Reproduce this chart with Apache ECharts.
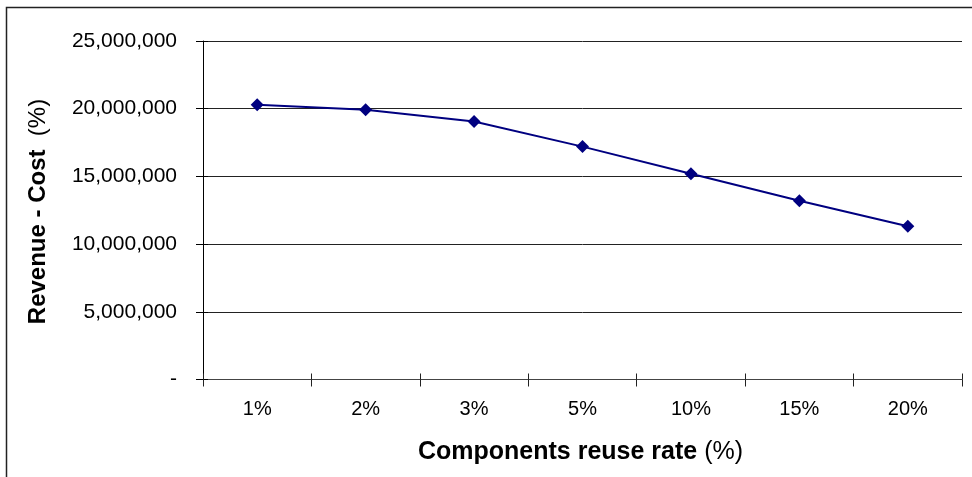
<!DOCTYPE html>
<html>
<head>
<meta charset="utf-8">
<script src="https://cdn.jsdelivr.net/npm/echarts@6/dist/echarts.min.js"></script>
<style>
html,body{margin:0;padding:0;background:#fff;}
#c{width:972px;height:477px;}
</style>
</head>
<body>
<div id="c"></div>
<script>
var categories = ['1%', '2%', '3%', '5%', '10%', '15%', '20%'];
var profitValues = [20290000, 19920000, 19050000, 17200000, 15190000, 13200000, 11320000];
var yTicks = [0, 5000000, 10000000, 15000000, 20000000, 25000000];

var FONT = '"Liberation Sans", Arial, sans-serif';
var chart = echarts.init(document.getElementById('c'), null, {renderer: 'canvas'});

function fmt(v) {
  if (v === 0) return '-';
  return String(v).replace(/\B(?=(\d{3})+(?!\d))/g, ',');
}

var grid = {left: 203, right: 10, top: 41, bottom: 97.5, containLabel: false};

chart.setOption({
  animation: false,
  backgroundColor: '#ffffff',
  grid: [grid],
  graphic: [
    {type: 'rect', shape: {x: 6.5, y: 7.5, width: 1200, height: 1200},
     style: {fill: 'none', stroke: '#222', lineWidth: 1.5}, z: 0},
    {type: 'text', x: 580.5, y: 452,
     style: {rich: {b: {fontFamily: FONT, fontSize: 25, fontWeight: 'bold', fill: '#000'},
                    n: {fontFamily: FONT, fontSize: 25, fill: '#000'}},
             text: '{b|Components reuse rate }{n|(%)}', align: 'center', verticalAlign: 'middle'}},
    {type: 'text', x: 38.5, y: 211.5, rotation: Math.PI / 2,
     style: {rich: {b: {fontFamily: FONT, fontSize: 24, fontWeight: 'bold', fill: '#000'},
                    n: {fontFamily: FONT, fontSize: 24, fill: '#000'}},
             text: '{b|Revenue - Cost}{n|  (%)}', align: 'center', verticalAlign: 'middle'}}
  ],
  xAxis: [{
    type: 'category',
    data: categories,
    boundaryGap: true,
    axisLine: {lineStyle: {color: '#444', width: 1.2}},
    axisTick: {show: true, length: 7, lineStyle: {color: '#222'}},
    axisLabel: {fontFamily: FONT, fontSize: 20, color: '#000', margin: 20},
    splitLine: {show: false}
  }, {
    type: 'category',
    data: categories,
    position: 'bottom',
    boundaryGap: true,
    axisLine: {show: false},
    axisTick: {show: true, inside: true, length: 6, lineStyle: {color: '#222'}},
    axisLabel: {show: false},
    splitLine: {show: false}
  }],
  yAxis: [{
    type: 'value',
    min: 0,
    max: 25000000,
    interval: 5000000,
    axisLine: {show: true, lineStyle: {color: '#000', width: 1}},
    axisTick: {show: true, length: 7, lineStyle: {color: '#000'}},
    axisLabel: {fontFamily: FONT, fontSize: 21, color: '#000', margin: 26,
                formatter: function (v) { return fmt(v); }},
    splitLine: {show: true, lineStyle: {color: '#222', width: 1}}
  }, {
    type: 'value',
    min: 0,
    max: 25000000,
    interval: 5000000,
    position: 'left',
    axisLine: {show: false},
    axisTick: {show: true, inside: true, length: 5, lineStyle: {color: '#000'}},
    axisLabel: {show: false},
    splitLine: {show: false}
  }],
  series: [{
    type: 'line',
    data: profitValues,
    xAxisIndex: 0,
    yAxisIndex: 0,
    symbol: 'diamond',
    symbolSize: [13, 13],
    lineStyle: {color: '#000080', width: 2},
    itemStyle: {color: '#000080'},
    z: 5
  }]
});
</script>
</body>
</html>
